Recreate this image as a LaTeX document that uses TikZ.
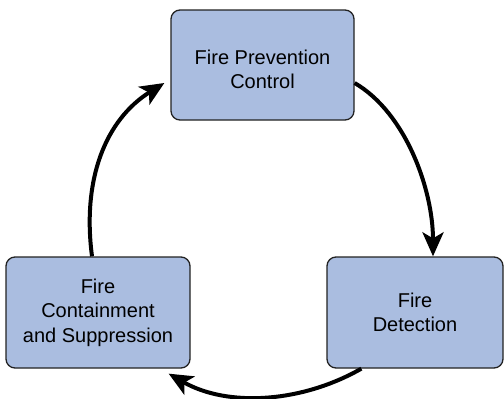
\documentclass[tikz,border=0pt]{standalone}
\usepackage{fontspec}
\setmainfont{Liberation Sans}
\usetikzlibrary{arrows.meta,calc}
\definecolor{boxfill}{HTML}{AABDE0}
\definecolor{boxline}{HTML}{222222}
\tikzset{
  stagebox/.style={draw=boxline, line width=1.3pt, fill=boxfill, rounded corners=9pt,
    align=center, inner sep=0pt, font=\fontsize{20}{24.5}\selectfont},
  cyclearrow/.style={line width=4pt, -{Stealth[length=24pt,width=21pt,inset=6pt]}}
}
\begin{document}
\begin{tikzpicture}[x=1pt,y=-1pt]
\useasboundingbox (0,0) rectangle (504,399);
\node[stagebox, minimum width=183pt, minimum height=110pt] (top) at (262.5,65)
  {\raisebox{-7pt}[\height][\depth]{\fontsize{20}{23.5}\selectfont\begin{tabular}{@{}c@{}}Fire Prevention\\Control\end{tabular}}};
\node[stagebox, minimum width=184pt, minimum height=111pt] (left) at (98,312.5) {Fire\\Containment\\and Suppression};
\node[stagebox, minimum width=176pt, minimum height=111pt] (right) at (415,312.5) {Fire\\Detection};
\draw[cyclearrow] ($(top.east)+(0,18)$) .. controls (406,113) and (433,190) .. ($(right.north)+(18,0)$);
\draw[cyclearrow] ($(right.south west)+(35,0)$) .. controls (302,402.6) and (228,407.6) .. ($(left.south east)+(-22,5)$);
\draw[cyclearrow] ($(left.north)+(-6,0)$) .. controls (82,180) and (105,120) .. ($(top.west)+(-6,18)$);
\end{tikzpicture}
\end{document}
